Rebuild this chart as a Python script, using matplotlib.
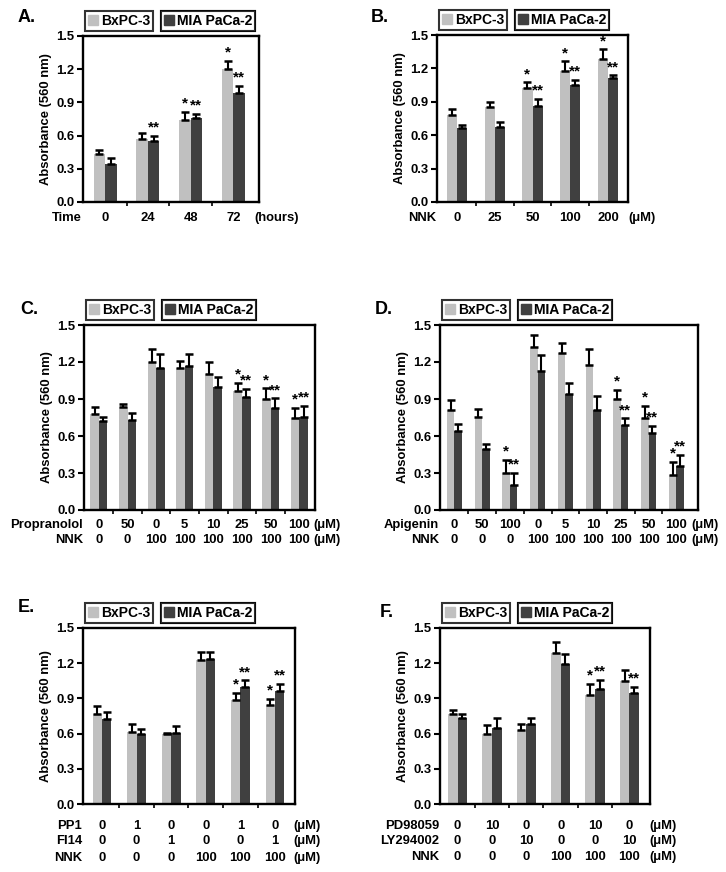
import numpy as np
import matplotlib
matplotlib.use("Agg")
import matplotlib.pyplot as plt
import matplotlib.transforms as mtransforms
from matplotlib.patches import Patch

plt.rcParams['font.family'] = ['Liberation Sans', 'DejaVu Sans']
plt.rcParams['font.weight'] = 'bold'

light = '#c0c0c0'
dark = '#404040'

# A. time course
a_rows = [('Time', ['0', '24', '48', '72'])]
a_bx = [0.43, 0.565, 0.74, 1.20]
a_bx_err = [0.04, 0.055, 0.075, 0.075]
a_mia = [0.345, 0.55, 0.755, 0.985]
a_mia_err = [0.055, 0.05, 0.04, 0.065]
a_bx_sig = ['', '', '*', '*']
a_mia_sig = ['', '**', '**', '**']

# B. NNK dose
b_rows = [('NNK', ['0', '25', '50', '100', '200'])]
b_bx = [0.785, 0.855, 1.025, 1.175, 1.28]
b_bx_err = [0.05, 0.04, 0.05, 0.09, 0.09]
b_mia = [0.667, 0.67, 0.86, 1.05, 1.11]
b_mia_err = [0.027, 0.048, 0.067, 0.046, 0.028]
b_bx_sig = ['', '', '*', '*', '*']
b_mia_sig = ['', '', '**', '**', '**']

# C. propranolol
c_rows = [('Propranolol', ['0', '50', '0', '5', '10', '25', '50', '100']),
          ('NNK', ['0', '0', '100', '100', '100', '100', '100', '100'])]
c_bx = [0.778, 0.832, 1.197, 1.154, 1.103, 0.968, 0.90, 0.743]
c_bx_err = [0.06, 0.027, 0.106, 0.054, 0.10, 0.064, 0.086, 0.087]
c_mia = [0.722, 0.73, 1.154, 1.17, 0.995, 0.919, 0.824, 0.757]
c_mia_err = [0.035, 0.054, 0.108, 0.092, 0.081, 0.062, 0.081, 0.086]
c_bx_sig = ['', '', '', '', '', '*', '*', '*']
c_mia_sig = ['', '', '', '', '', '**', '**', '**']

# D. apigenin
d_rows = [('Apigenin', ['0', '50', '100', '0', '5', '10', '25', '50', '100']),
          ('NNK', ['0', '0', '0', '100', '100', '100', '100', '100', '100'])]
d_bx = [0.81, 0.751, 0.297, 1.324, 1.276, 1.176, 0.897, 0.743, 0.284]
d_bx_err = [0.08, 0.068, 0.108, 0.095, 0.081, 0.127, 0.076, 0.10, 0.108]
d_mia = [0.643, 0.492, 0.203, 1.13, 0.94, 0.81, 0.689, 0.622, 0.357]
d_mia_err = [0.054, 0.043, 0.10, 0.127, 0.087, 0.114, 0.054, 0.059, 0.089]
d_bx_sig = ['', '', '*', '', '', '', '*', '*', '*']
d_mia_sig = ['', '', '**', '', '', '', '**', '**', '**']

# E. PP1 / FI14
e_rows = [('PP1', ['0', '1', '0', '0', '1', '0']),
          ('FI14', ['0', '0', '1', '0', '0', '1']),
          ('NNK', ['0', '0', '0', '100', '100', '100'])]
e_bx = [0.771, 0.615, 0.595, 1.225, 0.89, 0.842]
e_bx_err = [0.063, 0.065, 0.008, 0.071, 0.057, 0.057]
e_mia = [0.726, 0.595, 0.601, 1.239, 0.998, 0.961]
e_mia_err = [0.059, 0.04, 0.062, 0.057, 0.057, 0.065]
e_bx_sig = ['', '', '', '', '*', '*']
e_mia_sig = ['', '', '', '', '**', '**']

# F. PD98059 / LY294002
f_rows = [('PD98059', ['0', '10', '0', '0', '10', '0']),
          ('LY294002', ['0', '0', '10', '0', '0', '10']),
          ('NNK', ['0', '0', '0', '100', '100', '100'])]
f_bx = [0.763, 0.595, 0.629, 1.287, 0.933, 1.046]
f_bx_err = [0.042, 0.077, 0.051, 0.094, 0.093, 0.094]
f_mia = [0.729, 0.649, 0.678, 1.191, 0.984, 0.95]
f_mia_err = [0.042, 0.08, 0.051, 0.085, 0.076, 0.048]
f_bx_sig = ['', '', '', '', '*', '']
f_mia_sig = ['', '', '', '', '**', '**']

W, H = 726, 872
fig = plt.figure(figsize=(W / 100, H / 100), dpi=100)
fs = 9.4
px = 0.72  # points per pixel at 100 dpi


def panel(letter, box, xlim, width, rows, row_dy, unit, unit_dx,
          bx, bx_err, mia, mia_err, bx_sig, mia_sig):
    l, t, r, b = box
    ax = fig.add_axes([l / W, 1 - b / H, (r - l) / W, (b - t) / H])
    x = np.arange(len(bx))
    ax.bar(x - width / 2, bx, width, color=light)
    ax.bar(x + width / 2, mia, width, color=dark)
    for xs, ys, es in ((x - width / 2, bx, bx_err), (x + width / 2, mia, mia_err)):
        ax.errorbar(xs, ys, yerr=[np.zeros(len(ys)), es], fmt='none',
                    ecolor='black', elinewidth=1.5, capsize=3, capthick=1.8)
    for i in range(len(bx)):
        for xs, ys, es, s in ((x[i] - width / 2, bx[i], bx_err[i], bx_sig[i]),
                              (x[i] + width / 2, mia[i], mia_err[i], mia_sig[i])):
            if s:
                ax.text(xs, ys + es + 0.01, s, ha='center', va='bottom',
                        fontsize=11, fontweight='bold')
    ax.set_xlim(*xlim)
    ax.set_ylim(0, 1.5)
    ax.set_yticks(np.arange(0, 1.51, 0.3))
    ax.set_yticklabels(['%.1f' % v for v in np.arange(0, 1.51, 0.3)])
    ax.set_xticks(np.arange(len(bx) - 1) + 0.5)
    ax.set_xticklabels([])
    ax.tick_params(axis='y', direction='out', length=4, width=1.5, labelsize=fs, pad=2)
    ax.tick_params(axis='x', direction='out', length=3, width=1.2)
    for sp in ax.spines.values():
        sp.set_linewidth(1.7)
    ax.set_ylabel('Absorbance (560 nm)', fontsize=fs, fontweight='bold', labelpad=3)

    trans = ax.get_xaxis_transform()
    for k, (name, labels) in enumerate(rows):
        dy = -row_dy[k] * px
        for i, lab in enumerate(labels):
            ax.annotate(lab, (x[i], 0), xycoords=trans, xytext=(0, dy),
                        textcoords='offset points', ha='center', va='center',
                        fontsize=fs, fontweight='bold', annotation_clip=False)
        ax.annotate(name, (0, 0), xycoords='axes fraction', xytext=(-1 * px, dy),
                    textcoords='offset points', ha='right', va='center',
                    fontsize=fs, fontweight='bold', annotation_clip=False)
        ax.annotate(unit, (1, 0), xycoords='axes fraction', xytext=(unit_dx * px, dy),
                    textcoords='offset points', ha='left', va='center',
                    fontsize=fs, fontweight='bold', annotation_clip=False)

    # two separately boxed legend entries above the axes
    for lab, col, off in (('BxPC-3', light, 2), ('MIA PaCa-2', dark, 78)):
        tr = mtransforms.offset_copy(ax.transAxes, fig=fig, x=off, y=5, units='dots')
        leg = ax.legend([Patch(color=col)], [lab], loc='lower left',
                        bbox_to_anchor=(0, 1), bbox_transform=tr,
                        borderaxespad=0, frameon=True, fancybox=False,
                        edgecolor='black', handlelength=0.72, handleheight=0.72,
                        handletextpad=0.25, borderpad=0.2,
                        prop={'size': 10, 'weight': 'bold'})
        leg.get_frame().set_linewidth(1.5)
        ax.add_artist(leg)

    fig.text(letter[1] / W, 1 - letter[2] / H, letter[0], fontsize=13,
             fontweight='bold', ha='left', va='center')
    return ax


panel(('A.', 18, 17), (83, 36, 259, 202), (-0.52, 3.6), 0.27,
      a_rows, [16], '(hours)', -5, a_bx, a_bx_err, a_mia, a_mia_err, a_bx_sig, a_mia_sig)
panel(('B.', 371, 17), (437, 35, 628, 202), (-0.53, 4.53), 0.27,
      b_rows, [16], '(μM)', 0, b_bx, b_bx_err, b_mia, b_mia_err, b_bx_sig, b_mia_sig)
panel(('C.', 20, 309), (84, 325, 315, 510), (-0.52, 7.55), 0.3,
      c_rows, [15, 30], '(μM)', -2, c_bx, c_bx_err, c_mia, c_mia_err, c_bx_sig, c_mia_sig)
panel(('D.', 375, 309), (440, 325, 698, 510), (-0.52, 8.78), 0.27,
      d_rows, [15, 30], '(μM)', -7, d_bx, d_bx_err, d_mia, d_mia_err, d_bx_sig, d_mia_sig)
panel(('E.', 18, 607), (83, 628, 295, 804), (-0.55, 5.58), 0.27,
      e_rows, [22, 37, 54], '(μM)', -2, e_bx, e_bx_err, e_mia, e_mia_err, e_bx_sig, e_mia_sig)
panel(('F.', 380, 612), (440, 628, 650, 804), (-0.51, 5.6), 0.28,
      f_rows, [22, 37, 53], '(μM)', -1, f_bx, f_bx_err, f_mia, f_mia_err, f_bx_sig, f_mia_sig)

plt.savefig('out.png', dpi=100)
